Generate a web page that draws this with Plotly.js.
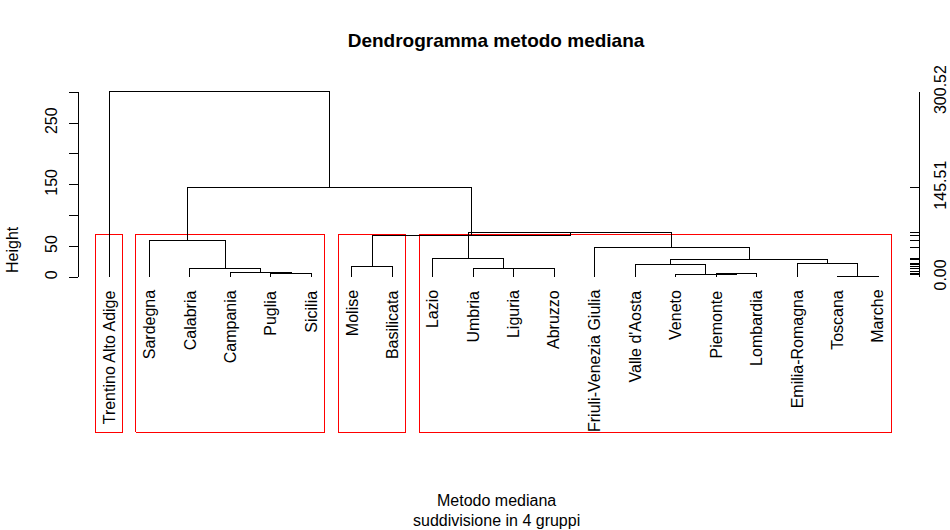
<!DOCTYPE html>
<html><head><meta charset="utf-8">
<script src="https://cdn.plot.ly/plotly-3.0.1.min.js"></script>
<style>html,body{margin:0;padding:0;background:#fff}
.scatterlayer path.js-line{shape-rendering:crispEdges}</style>
</head><body><div id="chart" style="width:950px;height:530px"></div>
<script>
// ---- data ----
const leafLabels = ["Trentino Alto Adige","Sardegna","Calabria","Campania","Puglia","Sicilia",
  "Molise","Basilicata","Lazio","Umbria","Liguria","Abruzzo","Friuli-Venezia Giulia",
  "Valle d'Aosta","Veneto","Piemonte","Lombardia","Emilia-Romagna","Toscana","Marche"];
// hclust-style merges: negative = leaf (1-based position in leafLabels), positive = earlier merge step
const mergeLeft  = [-19,-16,-15,-5,-4,-11,-10,-3,-7,-14,-18,10,-9,-13,-2,13, 9,15,-1];
const mergeRight = [-20,-17,  2,-6, 4,-12,  6, 5,-8,  3,  1,11, 7, 12, 8,14,16,17,18];
const mergeHeight = [1.2,6.5,4.2,6.5,8.6,14.7,14.5,14.6,17.8,20.6,22.7,28.6,30.8,48.5,60.0,72.0,68.3,145.51,300.52];
const clusterSizes = [1,5,2,12];
const chartTitle = "Dendrogramma metodo mediana";
const subLines = ["Metodo mediana","suddivisione in 4 gruppi"];
const yLabel = "Height";
const leftTickVals = [0,50,100,150,200,250,300];
const leftTickText = ["0","50","","150","","250",""];
const rightLabelled = [0,145.51,300.52];

// ---- geometry (layout only) ----
const W=950,H=530;
const zeroPx=277.3, pxPerUnit=0.6167, leaf1Px=109, leafStepPx=40.474;
const usrBottom=(zeroPx-432)/pxPerUnit;
const xRange=[1-leaf1Px/leafStepPx, 1+(W-leaf1Px)/leafStepPx];
const yRange=[(zeroPx-H)/pxPerUnit, zeroPx/pxPerUnit];
const axTop=300.6;
const dom=[(H-zeroPx)/H,(H-(zeroPx-axTop*pxPerUnit))/H];
const FONT="Liberation Sans, Arial, sans-serif";

// ---- dendrogram segments ----
const nodeX=[], nodeH=[];
function childX(c){return c<0? -c : nodeX[c-1];}
function childH(c){return c<0? 0 : nodeH[c-1];}
const dx=[], dy=[];
for(let i=0;i<mergeHeight.length;i++){
  const l=mergeLeft[i], r=mergeRight[i], h=mergeHeight[i];
  const xl=childX(l), xr=childX(r);
  dx.push(xl,xl,xr,xr,null); dy.push(childH(l),h,h,childH(r),null);
  nodeX.push((xl+xr)/2); nodeH.push(h);
}
// ---- rect.hclust boxes ----
const k=clusterSizes.length, n=mergeHeight.length;
const boxTop=(mergeHeight[n-(k-1)]+mergeHeight[n-k])/2;
const bx=[], by=[];
let cum=0;
clusterSizes.forEach(s=>{
  const x0=cum+0.66, x1=cum+s+0.33;
  bx.push(x0,x0,x1,x1,x0,null); by.push(usrBottom,boxTop,boxTop,usrBottom,usrBottom,null);
  cum+=s;
});

const traces=[
  {x:bx,y:by,mode:'lines',line:{color:'#ff0000',width:1},hoverinfo:'skip',showlegend:false},
  {x:dx,y:dy,mode:'lines',line:{color:'#000',width:1},hoverinfo:'skip',showlegend:false},
  {x:[1],y:[0],yaxis:'y2',mode:'markers',marker:{opacity:0},hoverinfo:'skip',showlegend:false},
  {x:[1],y:[0],yaxis:'y3',mode:'markers',marker:{opacity:0},hoverinfo:'skip',showlegend:false}
];

const rightVals=[0].concat(mergeHeight);
const rightText=rightVals.map(v=>rightLabelled.includes(v)? v.toFixed(2):"");

const annotations=leafLabels.map((t,i)=>({x:i+1,y:0,xref:'x',yref:'y',text:t,textangle:-90,
  showarrow:false,xanchor:'center',yanchor:'top',yshift:-12,borderpad:0,
  font:{family:FONT,size:16,color:'#000'}}));
annotations.push({x:12/W,y:1-250/H,xref:'paper',yref:'paper',text:yLabel,textangle:-90,showarrow:false,
  xanchor:'center',yanchor:'middle',font:{family:FONT,size:16,color:'#000'}});
subLines.forEach((t,i)=>annotations.push({x:496/W,y:1-[500.7,520][i]/H,xref:'paper',yref:'paper',text:t,
  showarrow:false,xanchor:'center',yanchor:'middle',font:{family:FONT,size:16,color:'#000'}}));

const layout={
  width:W,height:H,margin:{l:0,r:0,t:0,b:0},paper_bgcolor:'#fff',plot_bgcolor:'rgba(0,0,0,0)',
  showlegend:false,
  title:{text:'<b>'+chartTitle+'</b>',x:496/W,xanchor:'center',xref:'paper',y:1-40.5/H,yref:'paper',yanchor:'middle',
    font:{family:FONT,size:19,color:'#000'}},
  xaxis:{range:xRange,domain:[0,1],visible:false,fixedrange:true},
  yaxis:{range:yRange,domain:[0,1],visible:false,fixedrange:true},
  yaxis2:{range:[0,axTop],domain:dom,anchor:'free',position:78/W,side:'left',showline:true,linecolor:'#000',linewidth:1,
    ticks:'outside',ticklen:9,tickwidth:1,tickcolor:'#000',tickvals:leftTickVals,ticktext:leftTickText,tickangle:-90,
    ticklabelstandoff:6,
    showgrid:false,zeroline:false,tickfont:{family:FONT,size:16,color:'#000'},fixedrange:true},
  yaxis3:{range:[0,axTop],overlaying:'y2',anchor:'free',position:919/W,side:'right',showline:true,linecolor:'#000',linewidth:1,
    ticks:'inside',ticklen:9,tickwidth:1,tickcolor:'#000',tickvals:rightVals,ticktext:rightText,tickangle:-90,
    ticklabelstandoff:7,
    showgrid:false,zeroline:false,tickfont:{family:FONT,size:16,color:'#000'},fixedrange:true},
  annotations:annotations
};
Plotly.newPlot('chart',traces,layout,{staticPlot:true,displayModeBar:false});
</script></body></html>
